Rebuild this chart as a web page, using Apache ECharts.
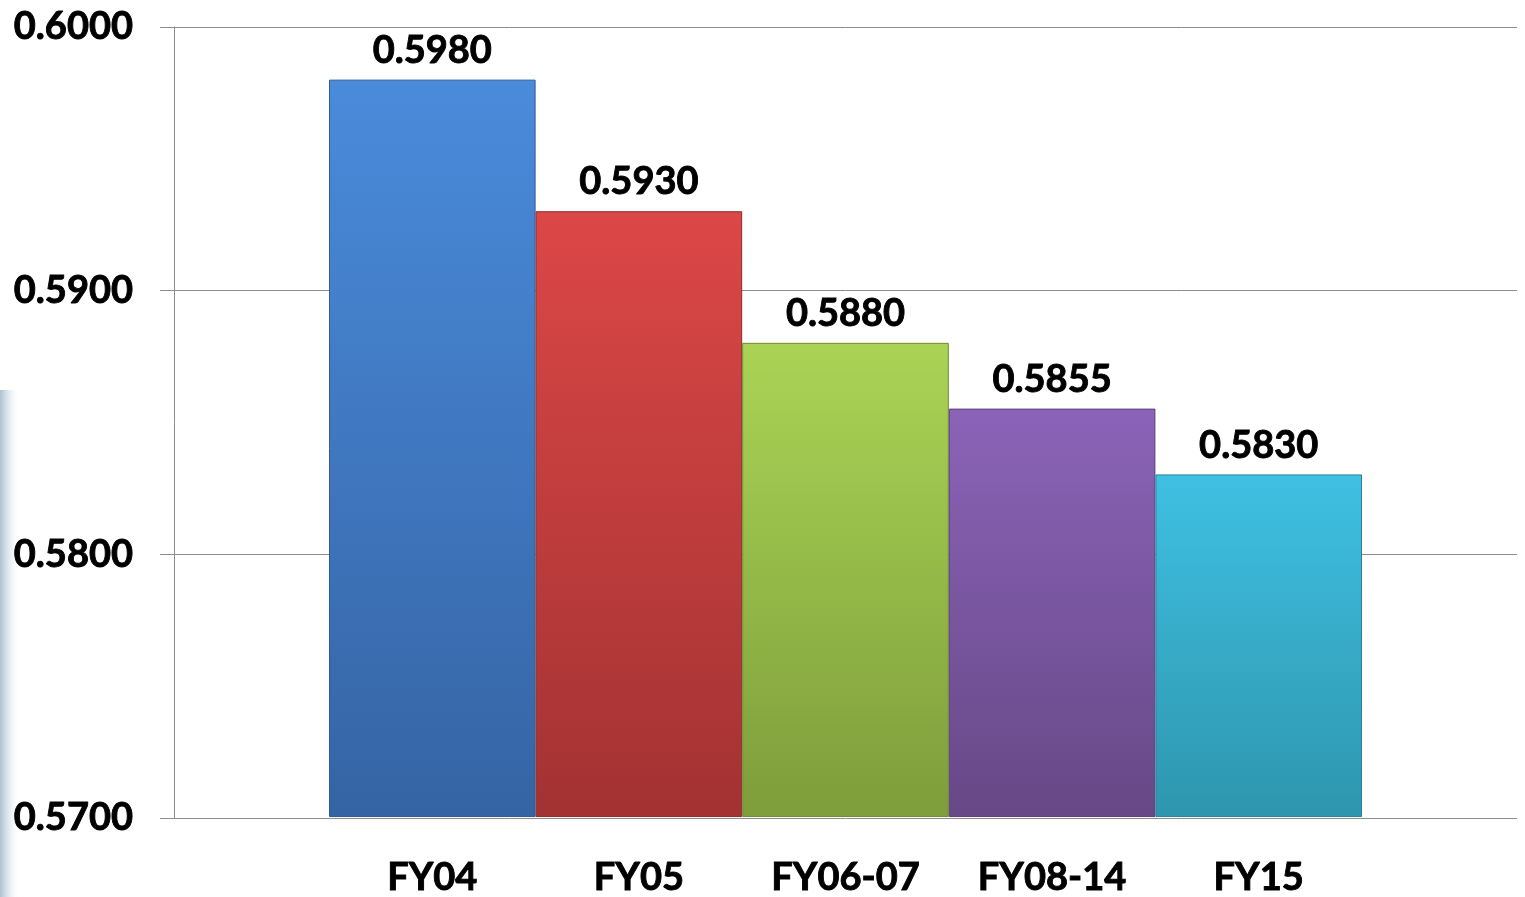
<!DOCTYPE html>
<html><head><meta charset="utf-8">
<script src="https://cdn.jsdelivr.net/npm/echarts@6/dist/echarts.min.js"></script>
<style>html,body{margin:0;padding:0;background:#fff}#c{width:1525px;height:897px}</style>
</head><body><div id="c"></div>
<script>
const categories = ['FY04', 'FY05', 'FY06-07', 'FY08-14', 'FY15'];
const values = [0.5980, 0.5930, 0.5880, 0.5855, 0.5830];
const yTicks = [0.57, 0.58, 0.59, 0.60];
const barColors = [
  ['#4A8BDB', '#3564A4'],
  ['#DC4747', '#A33232'],
  ['#AAD455', '#7E9D3B'],
  ['#8B63B8', '#674886'],
  ['#3FC0E2', '#2E96AE']
];
const edgeColors = ['#2F5A92', '#8E2B2B', '#6E8A33', '#5A3E78', '#2A8299'];

const FONT = 'Lato, "Open Sans", sans-serif';
const heavy = {textBorderColor: '#000', textBorderWidth: 0.9};
const chart = echarts.init(document.getElementById('c'), null, {renderer: 'canvas'});
const yMin = yTicks[0], yMax = yTicks[yTicks.length - 1], yStep = yTicks[1] - yTicks[0];

chart.setOption({
  animation: false,
  backgroundColor: '#ffffff',
  graphic: [{
    type: 'rect', left: 0, top: 390, shape: {width: 20, height: 507}, z: -10,
    style: {fill: new echarts.graphic.LinearGradient(0, 0, 1, 0, [
      {offset: 0, color: 'rgba(120,150,175,0.6)'},
      {offset: 0.4, color: 'rgba(160,185,205,0.35)'},
      {offset: 1, color: 'rgba(255,255,255,0)'}
    ])}
  }],
  grid: [
    {left: 174, right: 8, top: 27, bottom: 79},
    {left: 329, right: 163, top: 27, bottom: 79}
  ],
  xAxis: [
    {gridIndex: 0, type: 'category', data: categories, show: false},
    {gridIndex: 1, type: 'category', data: categories,
     axisLine: {show: false}, axisTick: {show: false},
     axisLabel: Object.assign({margin: 42, fontSize: 38, fontWeight: 'bold', color: '#000', fontFamily: FONT}, heavy)}
  ],
  yAxis: [
    {gridIndex: 0, type: 'value', min: yMin, max: yMax, interval: yStep,
     axisLine: {show: true, lineStyle: {color: '#8c8c8c', width: 1}},
     axisTick: {show: true, length: 14, lineStyle: {color: '#8c8c8c'}},
     splitLine: {show: true, lineStyle: {color: '#8c8c8c', width: 1}},
     axisLabel: Object.assign({margin: 41, fontSize: 38, fontWeight: 'bold', color: '#000', fontFamily: FONT,
       formatter: v => v.toFixed(4)}, heavy)},
    {gridIndex: 1, type: 'value', min: yMin, max: yMax, interval: yStep, show: false, splitLine: {show: false}}
  ],
  series: [{
    type: 'bar', xAxisIndex: 1, yAxisIndex: 1, barCategoryGap: '0%',
    data: values.map((v, i) => ({
      value: v,
      itemStyle: {
        color: new echarts.graphic.LinearGradient(0, 0, 0, 1, [
          {offset: 0, color: barColors[i][0]}, {offset: 1, color: barColors[i][1]}
        ]),
        borderColor: edgeColors[i], borderWidth: 1
      }
    })),
    label: Object.assign({show: true, position: 'top', distance: 10, fontSize: 38, fontWeight: 'bold', color: '#000',
      fontFamily: FONT, formatter: p => p.value.toFixed(4)}, heavy)
  }]
});
</script></body></html>
